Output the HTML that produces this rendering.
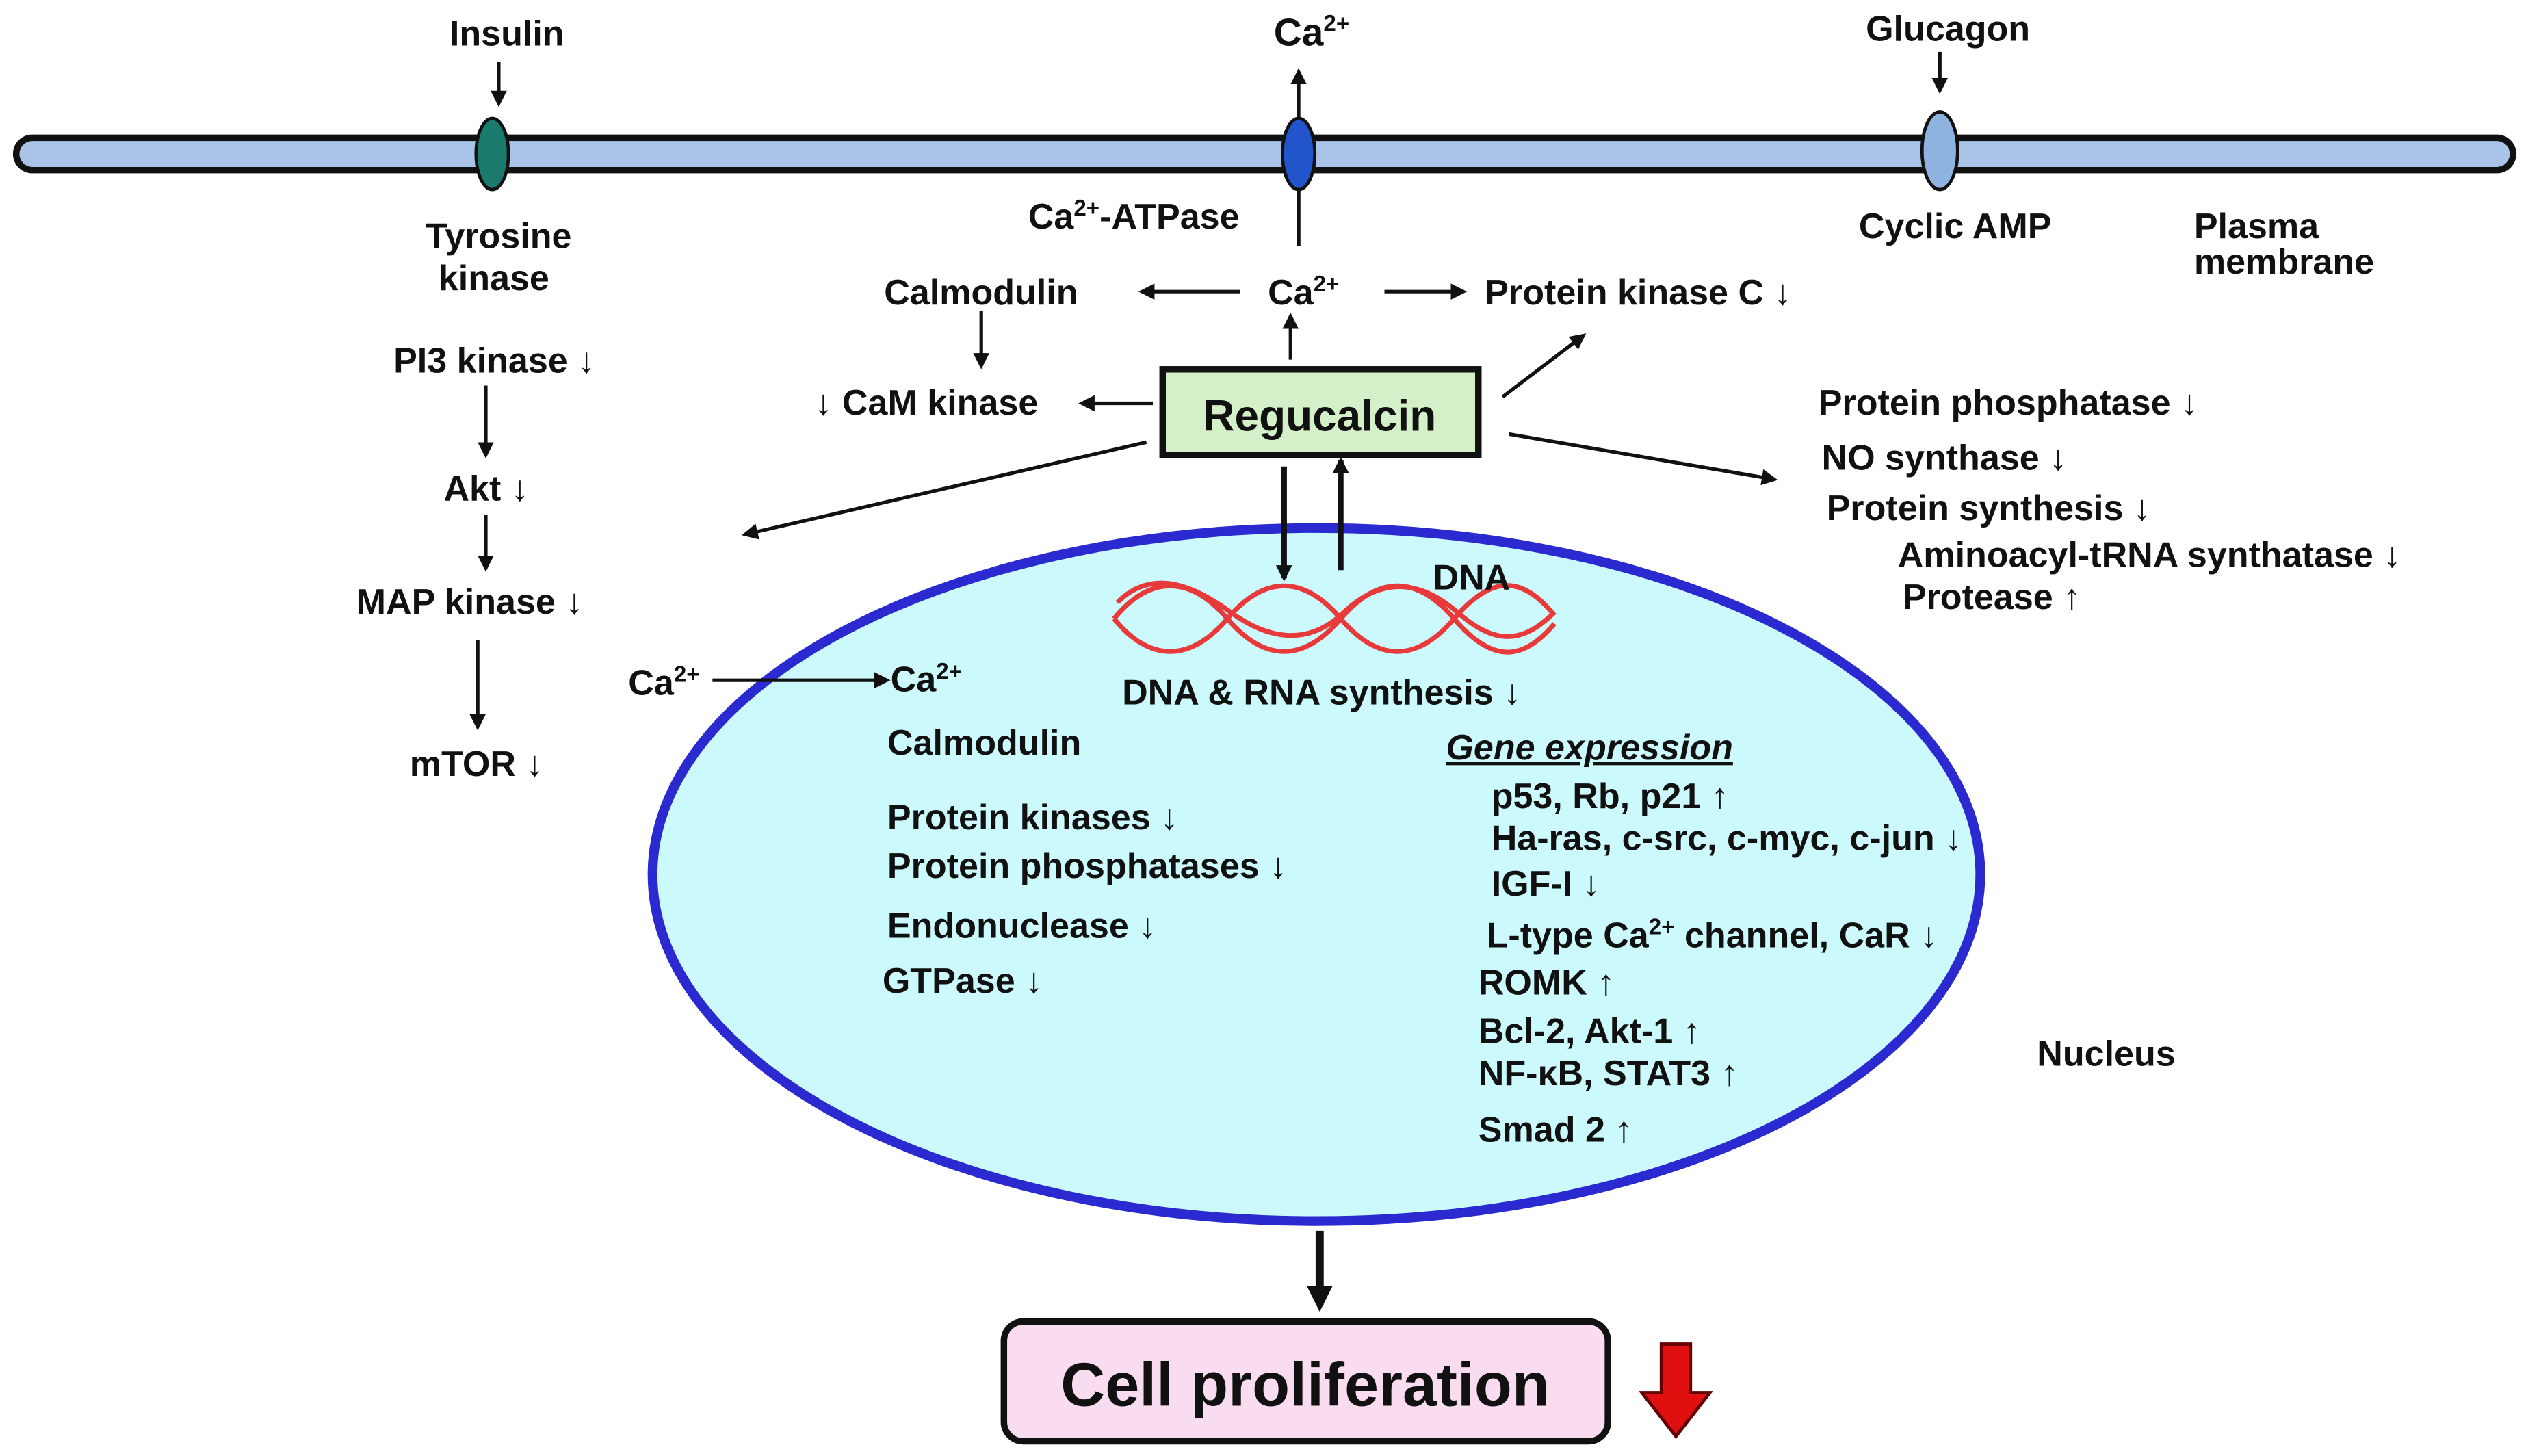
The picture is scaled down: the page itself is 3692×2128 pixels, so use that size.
<!DOCTYPE html>
<html><head><meta charset="utf-8"><style>
html,body{margin:0;padding:0;background:#fff}
svg{display:block}
text{font-family:"Liberation Sans",sans-serif;font-weight:bold;fill:#111;font-size:22px}
</style></head><body>
<svg width="3692" height="2128" viewBox="0 0 1560 899" xmlns="http://www.w3.org/2000/svg">
<defs>
<marker id="a" markerWidth="10" markerHeight="10" refX="8" refY="5" orient="auto" markerUnits="userSpaceOnUse"><path d="M0,0 L10,5 L0,10 z" fill="#111"/></marker>
<marker id="b" markerWidth="16" markerHeight="16" refX="12" refY="8" orient="auto" markerUnits="userSpaceOnUse"><path d="M0,0 L16,8 L0,16 z" fill="#111"/></marker>
</defs>
<g stroke="#111" stroke-width="2.2" fill="none" marker-end="url(#a)">
<line x1="308" y1="38" x2="308" y2="64"/>
<line x1="1198" y1="32" x2="1198" y2="56"/>
<line x1="802" y1="152" x2="802" y2="44"/>
<line x1="766" y1="180" x2="705" y2="180"/>
<line x1="855" y1="180" x2="904" y2="180"/>
<line x1="606" y1="192" x2="606" y2="226"/>
<line x1="712" y1="249" x2="668" y2="249"/>
<line x1="797" y1="222" x2="797" y2="195"/>
<line x1="928" y1="245" x2="978" y2="207"/>
<line x1="932" y1="268" x2="1096" y2="296"/>
<line x1="708" y1="273" x2="460" y2="330"/>
<line x1="300" y1="238" x2="300" y2="281"/>
<line x1="300" y1="318" x2="300" y2="351"/>
<line x1="295" y1="395" x2="295" y2="449"/>
</g>
<rect x="10" y="85" width="1542" height="20" rx="10" fill="#a9c4e8" stroke="#111" stroke-width="4"/>
<ellipse cx="304" cy="95" rx="10" ry="22" fill="#1a7a6e" stroke="#111" stroke-width="2"/>
<ellipse cx="802" cy="95" rx="10" ry="22" fill="#2255cc" stroke="#111" stroke-width="2"/>
<ellipse cx="1198" cy="93" rx="11" ry="24" fill="#8fb3e0" stroke="#111" stroke-width="2"/>
<line x1="802" y1="117" x2="802" y2="152" stroke="#111" stroke-width="2.2"/>
<ellipse cx="813" cy="540" rx="410" ry="214" fill="#ccfafc" stroke="#2a2ad0" stroke-width="6"/>
<line x1="440" y1="420" x2="548" y2="420" stroke="#111" stroke-width="2.2" marker-end="url(#a)"/>
<g stroke="#111" stroke-width="3.5" marker-end="url(#a)">
<line x1="793" y1="288" x2="793" y2="357"/>
<line x1="828" y1="352" x2="828" y2="284"/>
</g>
<rect x="718" y="228" width="195" height="53" fill="#d4f0c8" stroke="#111" stroke-width="4"/>
<text x="815" y="266" style="font-size:27px" text-anchor="middle">Regucalcin</text>
<g stroke="#e83a3a" stroke-width="3" fill="none">
<path d="M688,382 C710,355 735,355 758,382 S805,409 828,382 S875,355 898,382 S940,409 960,385"/>
<path d="M688,382 C710,409 735,409 758,382 S805,355 828,382 S875,409 898,382 S940,355 960,380"/>
<path d="M690,372 C712,350 738,362 760,378 S807,400 830,378 S877,358 900,378 S940,398 960,378"/>
</g>
<text x="313" y="28" text-anchor="middle">Insulin</text>
<text x="810" y="28" text-anchor="middle" style="font-size:24px">Ca<tspan font-size="14" dy="-9">2+</tspan></text>
<text x="1203" y="25" text-anchor="middle">Glucagon</text>
<text x="308" y="153" text-anchor="middle">Tyrosine</text>
<text x="305" y="179" text-anchor="middle">kinase</text>
<text x="635" y="141">Ca<tspan font-size="14" dy="-8">2+</tspan><tspan dy="8">-ATPase</tspan></text>
<text x="1148" y="147">Cyclic AMP</text>
<text x="1355" y="147">Plasma</text>
<text x="1355" y="169">membrane</text>
<text x="546" y="188">Calmodulin</text>
<text x="783" y="188">Ca<tspan font-size="14" dy="-8">2+</tspan></text>
<text x="917" y="188">Protein kinase C ↓</text>
<text x="503" y="256">↓ CaM kinase</text>
<text x="1123" y="256">Protein phosphatase ↓</text>
<text x="1125" y="290">NO synthase ↓</text>
<text x="1128" y="321">Protein synthesis ↓</text>
<text x="1172" y="350">Aminoacyl-tRNA synthatase   ↓</text>
<text x="1175" y="376">Protease ↑</text>
<text x="243" y="230">PI3 kinase ↓</text>
<text x="274" y="309">Akt ↓</text>
<text x="220" y="379">MAP kinase ↓</text>
<text x="253" y="479">mTOR ↓</text>
<text x="885" y="364">DNA</text>
<text x="388" y="429">Ca<tspan font-size="14" dy="-8">2+</tspan></text>
<text x="550" y="427">Ca<tspan font-size="14" dy="-8">2+</tspan></text>
<text x="693" y="435">DNA &amp; RNA synthesis ↓</text>
<text x="548" y="466">Calmodulin</text>
<text x="548" y="512">Protein kinases ↓</text>
<text x="548" y="542">Protein phosphatases ↓</text>
<text x="548" y="579">Endonuclease ↓</text>
<text x="545" y="613">GTPase ↓</text>
<text x="893" y="469" font-style="italic" text-decoration="underline">Gene  expression</text>
<text x="921" y="499">p53, Rb, p21 ↑</text>
<text x="921" y="525">Ha-ras, c-src, c-myc, c-jun ↓</text>
<text x="921" y="553">IGF-I ↓</text>
<text x="918" y="585">L-type Ca<tspan font-size="14" dy="-8">2+</tspan><tspan dy="8"> channel,  CaR ↓</tspan></text>
<text x="913" y="614">ROMK ↑</text>
<text x="913" y="644">Bcl-2, Akt-1 ↑</text>
<text x="913" y="670">NF-κB, STAT3 ↑</text>
<text x="913" y="705">Smad 2 ↑</text>
<text x="1258" y="658">Nucleus</text>
<line x1="815" y1="760" x2="815" y2="806" stroke="#111" stroke-width="5" marker-end="url(#b)"/>
<rect x="620" y="816" width="373" height="74" rx="12" fill="#fadcf0" stroke="#111" stroke-width="4"/>
<text x="806" y="868" style="font-size:38px" text-anchor="middle">Cell proliferation</text>
<path d="M1026,830 L1044,830 L1044,860 L1056,860 L1035,887 L1014,860 L1026,860 z" fill="#e01010" stroke="#600" stroke-width="2"/>
</svg>
</body></html>
